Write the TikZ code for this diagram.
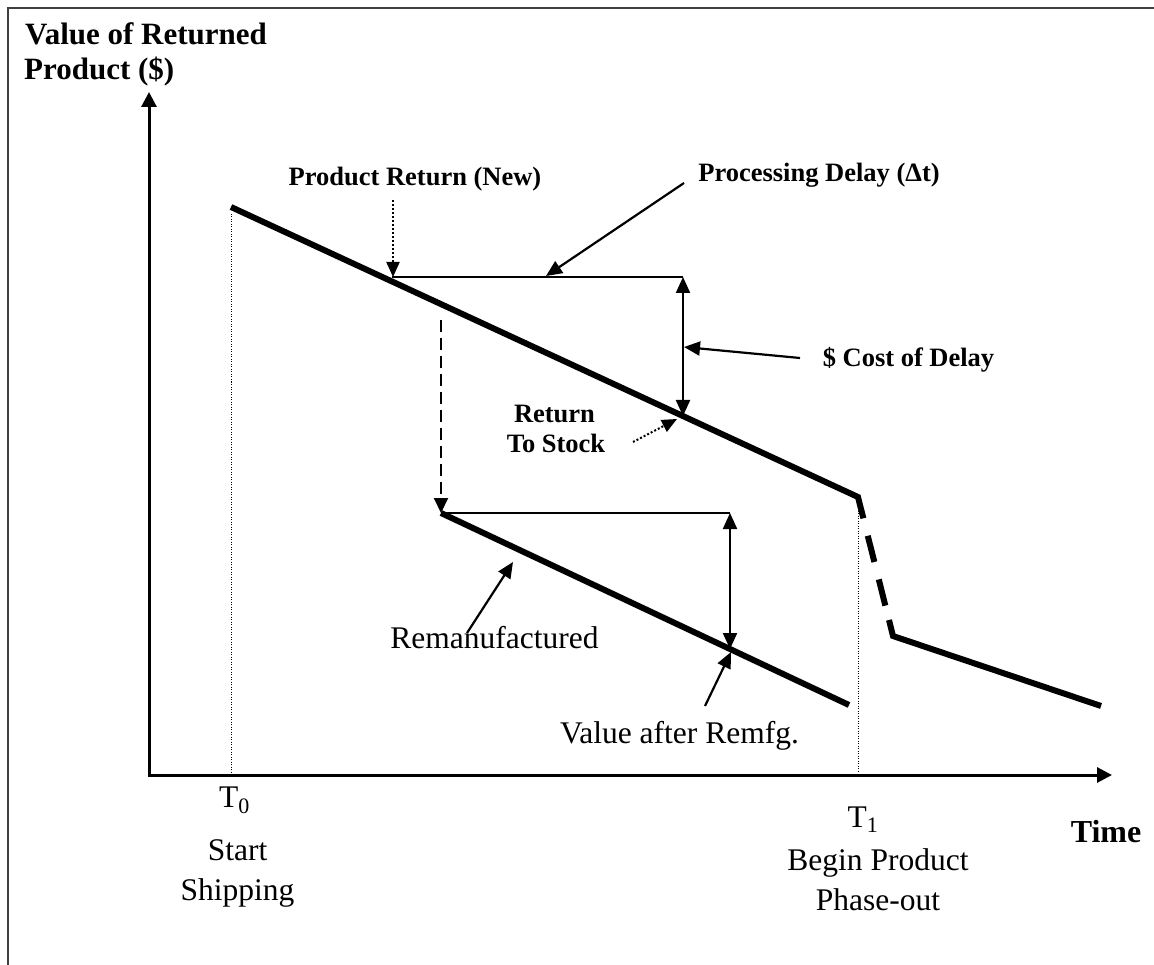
\documentclass[tikz,border=0pt]{standalone}
\usepackage{fontspec}
\setmainfont{Liberation Serif}
\usetikzlibrary{arrows.meta,calc}

\tikzset{
  valueline/.style={line width=6pt, line cap=butt, line join=miter},
  axisline/.style={line width=3pt, line join=miter,
    {Triangle[length=15pt,width=15pt]}-{Triangle[length=15pt,width=15pt]}},
  refline/.style={line width=1.4pt},
  pointer/.style={line width=2.2pt, -{Triangle[length=16pt,width=14pt]}},
  span/.style={line width=2.2pt,
    {Triangle[length=16pt,width=14pt]}-{Triangle[length=16pt,width=14pt]}},
  dotpointer/.style={line width=2pt, dash pattern=on 2pt off 2pt,
    -{Triangle[length=15pt,width=13pt]}},
  dashpointer/.style={line width=2pt, dash pattern=on 12pt off 6pt,
    -{Triangle[length=15pt,width=14pt]}},
  guide/.style={line width=0.9pt, dash pattern=on 1pt off 1.5pt},
  boldlabel/.style={font=\fontsize{26.5}{30}\selectfont\bfseries, anchor=base, inner sep=0pt},
  plainlabel/.style={font=\fontsize{31.5}{36}\selectfont, anchor=base, inner sep=0pt},
  titlelabel/.style={font=\fontsize{31}{35}\selectfont\bfseries, anchor=base west, inner sep=0pt},
}

\begin{document}
\begin{tikzpicture}[x=1pt,y=-1pt]
  \useasboundingbox (0,0) rectangle (1154,965);
  \fill[white] (0,0) rectangle (1154,965);

  % frame
  \draw[line width=2.2pt, black!75] (8,965) -- (8,8) -- (1154,8);

  % axes
  \coordinate (O) at (149,775);
  \coordinate (ytip) at (149,92);
  \coordinate (xtip) at (1112,775);
  \draw[axisline] (ytip) -- (O) -- (xtip);

  % value of new product, phase-out drop and tail
  \coordinate (A) at (231,207);
  \coordinate (B) at (858,497);
  \coordinate (C) at (893,636);
  \coordinate (D) at (1101,706);
  \coordinate (b1) at ($(B)!22pt!(C)$);
  \coordinate (c1) at ($(C)!16.5pt!(B)$);
  \draw[valueline] (A) -- (B) -- (b1);
  \draw[valueline, dash pattern=on 27pt off 18pt, dash phase=27pt] (b1) -- (c1);
  \draw[valueline] (c1) -- (C) -- (D);

  % remanufactured value
  \coordinate (L1) at (441,513);
  \coordinate (L2) at (849,705);
  \draw[valueline] (L1) -- (L2);

  % guides down to T0 and T1
  \coordinate (g0top) at (231,214);
  \coordinate (g0bot) at (231,773);
  \coordinate (g1top) at (858,503);
  \coordinate (g1bot) at (858,773);
  \draw[guide] (g0top) -- (g0bot);
  \draw[guide] (g1top) -- (g1bot);

  % processing delay on the new product
  \coordinate (R1) at (392,277);
  \coordinate (R2) at (683,277);
  \coordinate (S) at (683,416);
  \draw[refline] (R1) -- (R2);
  \draw[span] (R2) -- (S);

  % processing delay for remanufacturing
  \coordinate (M2) at (730,513);
  \coordinate (M3) at (730,649);
  \draw[refline] (L1) -- (M2);
  \draw[span] (M2) -- (M3);

  % return routed to remanufacturing
  \coordinate (dv) at (441,320);
  \draw[dashpointer] (dv) -- (L1);

  % labels
  \node[titlelabel] (title1) at (25,45) {Value of Returned};
  \node[titlelabel] (title2) at (24,80) {Product (\$)};

  \node[boldlabel] (newret) at (415,186) {Product Return (New)};
  \node[boldlabel] (delay) at (819,182) {Processing Delay (Δt)};
  \node[boldlabel] (cost) at (908.5,367) {\$ Cost of Delay};
  \node[boldlabel] (rts1) at (554.5,423) {Return};
  \node[boldlabel] (rts2) at (556,453) {To Stock};

  \node[plainlabel] (reman) at (494.5,648) {Remanufactured};
  \node[plainlabel] (after) at (679.5,743) {Value after Remfg.};

  \node[plainlabel] (t0) at (234.5,807) {T\textsubscript{0}};
  \node[plainlabel] (start1) at (237.5,860) {Start};
  \node[plainlabel] (start2) at (237.5,900) {Shipping};

  \node[plainlabel] (t1) at (863,827) {T\textsubscript{1}};
  \node[plainlabel] (phase1) at (878,870) {Begin Product};
  \node[plainlabel] (phase2) at (878,910) {Phase-out};

  \node[font=\fontsize{32}{36}\selectfont\bfseries, anchor=base, inner sep=0pt]
    (time) at (1106,842) {Time};

  % pointers from labels
  \coordinate (p1) at (393,200);
  \draw[dotpointer] (p1) -- (R1 -| p1);

  \coordinate (p2) at (684,183);
  \coordinate (p2tip) at (546,276);
  \draw[pointer] (p2) -- (p2tip);

  \coordinate (p3) at (800,358);
  \coordinate (p3tip) at (684,347);
  \draw[pointer] (p3) -- (p3tip);

  \coordinate (p4) at (633,442);
  \coordinate (p4tip) at (677,419);
  \draw[dotpointer] (p4) -- (p4tip);

  \coordinate (p5) at (467,633);
  \coordinate (p5tip) at (513,562);
  \draw[pointer] (p5) -- (p5tip);

  \coordinate (p6) at (705,706);
  \coordinate (p6tip) at (731,652);
  \draw[pointer] (p6) -- (p6tip);
\end{tikzpicture}
\end{document}
